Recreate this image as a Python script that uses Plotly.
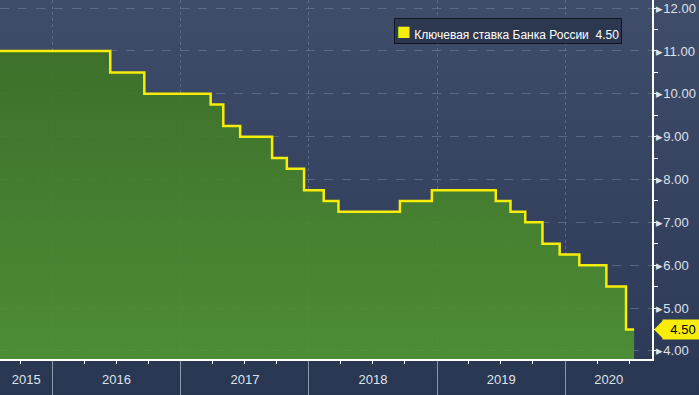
import base64
import pandas as pd
import plotly.graph_objects as go

# ---- data ----
dates = ["2015-08-03", "2016-06-14", "2016-09-19", "2017-03-27", "2017-05-02",
         "2017-06-19", "2017-09-18", "2017-10-30", "2017-12-18", "2018-02-12",
         "2018-03-26", "2018-09-17", "2018-12-17", "2019-06-17", "2019-07-29",
         "2019-09-09", "2019-10-28", "2019-12-16", "2020-02-10", "2020-04-27",
         "2020-06-22", "2020-07-15"]
rates = [11.00, 10.50, 10.00, 9.75, 9.25, 9.00, 8.50, 8.25, 7.75, 7.50,
         7.25, 7.50, 7.75, 7.50, 7.25, 7.00, 6.50, 6.25, 6.00, 5.50,
         4.50, 4.50]
series_name = "Ключевая ставка Банка России"
year_labels = ["2015", "2016", "2017", "2018", "2019", "2020"]
y_ticks = [4, 5, 6, 7, 8, 9, 10, 11, 12]

x_range = ["2015-08-05", "2020-09-04"]
y_range = [3.81, 12.19]

W, H = 699, 395
ML, MR, MT, MB = 0, 47, 0, 36
PW, PH = W - ML - MR, H - MT - MB

YELLOW = "#f7ec0a"
TXT = "rgb(222,226,234)"
FONT = "Liberation Sans, Arial, sans-serif"

# year label positions: centre of visible part of each year
bounds = [pd.Timestamp(x_range[0])] + [pd.Timestamp(f"{y}-01-01") for y in year_labels[1:]] + [pd.Timestamp(x_range[1])]
centres = [(bounds[i] + (bounds[i + 1] - bounds[i]) / 2) for i in range(len(year_labels))]

# background gradient image
svg = (f'<svg xmlns="http://www.w3.org/2000/svg" width="{W}" height="{H}" preserveAspectRatio="none">'
       '<defs><linearGradient id="g" x1="0" y1="0" x2="0" y2="1">'
       '<stop offset="0" stop-color="rgb(63,76,106)"/>'
       '<stop offset="0.9" stop-color="rgb(46,59,88)"/>'
       '<stop offset="0.91" stop-color="rgb(43,56,84)"/>'
       '<stop offset="1" stop-color="rgb(42,55,83)"/>'
       '</linearGradient></defs>'
       f'<rect width="{W}" height="{H}" fill="url(#g)"/></svg>')
bg_src = "data:image/svg+xml;base64," + base64.b64encode(svg.encode()).decode()

fig = go.Figure()

fig.add_trace(go.Scatter(
    x=dates, y=rates, mode="lines", line=dict(shape="hv", color=YELLOW, width=2.5),
    fill="tozeroy",
    fillgradient=dict(type="vertical",
                      colorscale=[[0, "rgba(80,150,50,0.9)"], [1, "rgba(62,116,36,0.9)"]],
                      start=3.8, stop=11.0),
    name=series_name, showlegend=False, hoverinfo="skip"))

# invisible trace to activate xaxis2 for year labels
fig.add_trace(go.Scatter(x=[x_range[0]], y=[None], xaxis="x2", showlegend=False, hoverinfo="skip"))

legend_text = (f"<span style='color:{YELLOW};font-size:23px'>\u25a0</span>"
               f" {series_name}\u00a0\u00a0{rates[-1]:.2f}")

fig.update_layout(
    width=W, height=H,
    margin=dict(l=ML, r=MR, t=MT, b=MB),
    paper_bgcolor="rgb(43,56,84)",
    plot_bgcolor="rgba(0,0,0,0)",
    font=dict(family=FONT, color=TXT, size=13),
    images=[dict(source=bg_src, xref="paper", yref="paper", x=0, y=1,
                 sizex=W / PW, sizey=H / PH, xanchor="left", yanchor="top",
                 sizing="stretch", layer="below")],
    xaxis=dict(
        type="date", range=x_range,
        tick0="2016-01-01", dtick="M12",
        ticks="outside", ticklen=MB, tickcolor="rgb(140,150,168)", tickwidth=1,
        showticklabels=False,
        showgrid=True, gridcolor="rgba(115,135,165,0.55)", griddash="dot", gridwidth=1,
        showline=True, linecolor="white", linewidth=1.5,
        minor=dict(dtick="M3", tick0="2015-01-01", ticks="outside", ticklen=3,
                   tickcolor="white", showgrid=False),
        zeroline=False,
    ),
    xaxis2=dict(
        type="date", range=x_range, overlaying="x", anchor="y", side="bottom",
        tickmode="array", tickvals=centres, ticktext=year_labels,
        ticks="", showgrid=False, zeroline=False, showline=False,
        tickfont=dict(size=13, color=TXT), ticklabelstandoff=11,
    ),
    yaxis=dict(
        side="right", range=y_range,
        tickmode="array", tickvals=y_ticks,
        ticktext=[f"\u25b8{v:.2f}" for v in y_ticks],
        ticks="", tickfont=dict(size=13, color=TXT),
        showgrid=True, gridcolor="rgba(115,135,165,0.55)", griddash="dash", gridwidth=1,
        showline=True, linecolor="white", linewidth=1.5,
        minor=dict(dtick=0.5, tick0=0, ticks="outside", ticklen=4, tickcolor="white", showgrid=False),
        zeroline=False,
    ),
    showlegend=False,
    annotations=[
        dict(x=622 / PW, xref="paper", xanchor="right", y=1 - 18 / PH, yref="paper", yanchor="top",
             text=legend_text, showarrow=False, align="left", height=20, valign="middle",
             bgcolor="rgb(44,55,80)", bordercolor="rgb(18,22,34)", borderwidth=1, borderpad=2,
             font=dict(size=12, color="white", family=FONT)),
        dict(x=1, xref="paper", y=rates[-1], yref="y", xanchor="left", yanchor="middle",
             text=f"{rates[-1]:.2f}", showarrow=True, ax=10, ay=0,
             arrowhead=1, arrowsize=3, arrowwidth=1, arrowcolor=YELLOW, standoff=2,
             width=36, align="center",
             bgcolor=YELLOW, font=dict(color="black", size=13), borderpad=2),
    ],
)

fig.write_html("out.html", config={"displayModeBar": False},
               post_script="document.body.style.margin='0';document.body.style.overflow='hidden';")
